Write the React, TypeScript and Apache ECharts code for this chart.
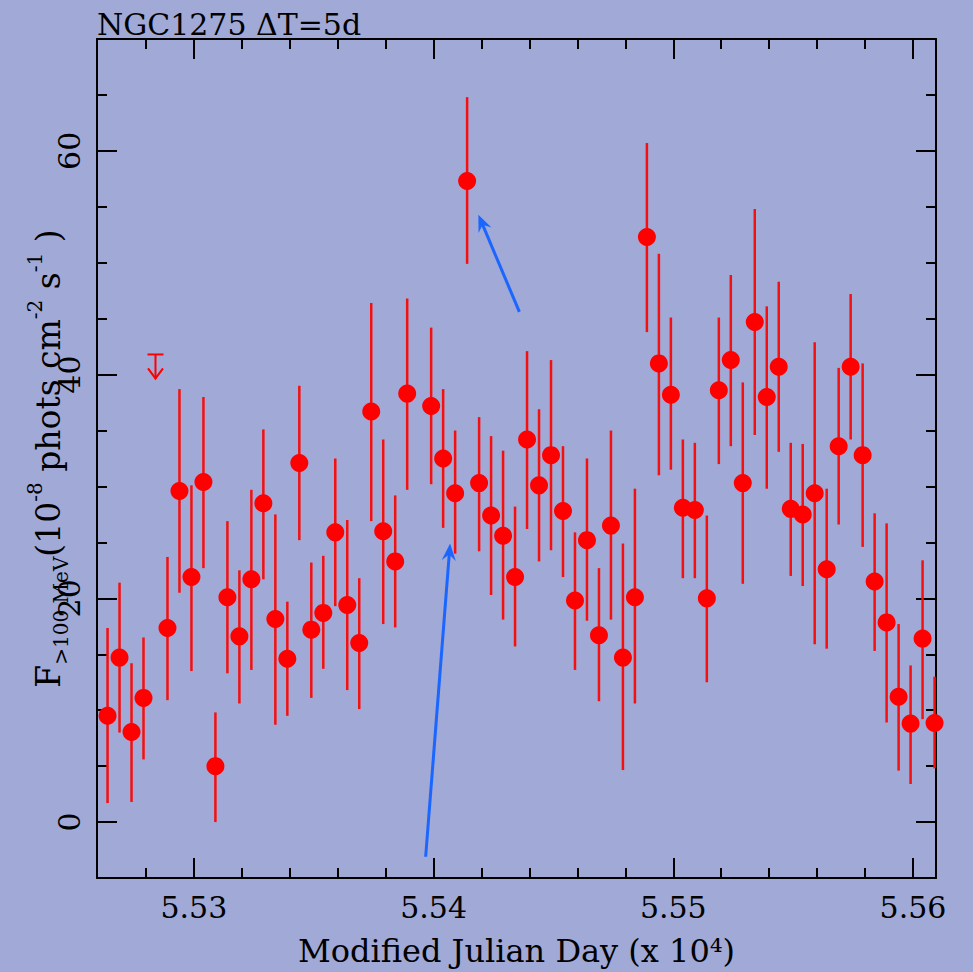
import { useEffect, useRef } from 'react';
import * as echarts from 'echarts';

const FONT = 'DejaVu Serif';

// Modified Julian Day of each 5-day bin centre (detections)
const mjd = [
  55264, 55269, 55274, 55279, 55289, 55294, 55299, 55304, 55309, 55314,
  55319, 55324, 55329, 55334, 55339, 55344, 55349, 55354, 55359, 55364,
  55369, 55374, 55379, 55384, 55389, 55399, 55404, 55409, 55414, 55419,
  55424, 55429, 55434, 55439, 55444, 55449, 55454, 55459, 55464, 55469,
  55474, 55479, 55484, 55489, 55494, 55499, 55504, 55509, 55514, 55519,
  55524, 55529, 55534, 55539, 55544, 55549, 55554, 55559, 55564, 55569,
  55574, 55579, 55584, 55589, 55594, 55599, 55604, 55609,
];
// Flux > 100 MeV (1e-8 phots cm^-2 s^-1)
const flux = [
  9.5, 14.7, 8.05, 11.1, 17.35, 29.6, 21.9, 30.4, 5.0, 20.1,
  16.6, 21.7, 28.5, 18.15, 14.6, 32.1, 17.2, 18.7, 25.9, 19.4,
  16.0, 36.7, 26.0, 23.3, 38.3, 37.2, 32.5, 29.4, 57.3, 30.3,
  27.4, 25.6, 21.9, 34.2, 30.1, 32.8, 27.8, 19.8, 25.2, 16.7,
  26.5, 14.7, 20.1, 52.3, 41.0, 38.2, 28.1, 27.9, 20.0, 38.6,
  41.3, 30.3, 44.7, 38.0, 40.7, 28.0, 27.5, 29.4, 22.6, 33.6,
  40.7, 32.8, 21.5, 17.85, 11.2, 8.8, 16.4, 8.85,
];
const fluxLo = [
  1.7, 8.0, 1.8, 5.6, 10.9, 20.5, 13.5, 22.7, 0.0, 13.3,
  10.6, 13.6, 21.7, 8.7, 9.5, 25.2, 11.1, 13.7, 19.3, 11.8,
  10.1, 26.9, 17.7, 17.4, 29.7, 30.2, 26.3, 24.0, 49.9, 24.2,
  20.3, 18.1, 15.7, 26.2, 23.3, 24.3, 21.9, 13.6, 18.0, 10.8,
  18.1, 4.65, 10.6, 43.8, 31.0, 31.5, 21.8, 21.8, 12.5, 32.0,
  33.6, 21.3, 34.6, 29.8, 33.1, 22.0, 21.1, 15.9, 15.5, 26.6,
  34.2, 24.6, 15.3, 8.9, 4.6, 3.4, 9.2, 4.8,
];
const fluxHi = [
  17.35, 21.4, 14.2, 16.5, 23.7, 38.7, 30.1, 38.0, 9.8, 26.9,
  22.5, 29.7, 35.1, 27.5, 19.7, 39.0, 23.2, 23.8, 32.5, 27.0,
  21.8, 46.4, 34.2, 29.2, 46.8, 44.2, 38.7, 35.0, 64.8, 36.2,
  34.5, 33.2, 28.2, 42.1, 36.9, 41.3, 33.6, 25.9, 32.5, 22.7,
  35.0, 24.9, 29.8, 60.7, 50.8, 45.1, 34.2, 33.9, 27.4, 45.1,
  48.9, 39.3, 54.8, 46.1, 48.3, 33.9, 33.8, 42.9, 29.8, 40.6,
  47.2, 41.0, 27.6, 26.7, 17.7, 14.0, 23.4, 13.0,
];

// Upper limit
const ulMjd = [55284];
const ulFlux = [41.8];

// Annotation arrows (tail -> head), data coordinates
const arrowTail = [
  [55435.8, 45.6],
  [55396.7, -3.1],
];
const arrowHead = [
  [55418.7, 54.3],
  [55406.9, 24.9],
];

const X_MIN = 55259.6;
const X_MAX = 55609.6;
const Y_MIN = -5;
const Y_MAX = 70;
const xMajorTicks = [55300, 55400, 55500, 55600];
const xMinorTicks = [
  55280, 55320, 55340, 55360, 55380, 55420, 55440, 55460, 55480, 55520,
  55540, 55560, 55580,
];
const yMajorTicks = [0, 20, 40, 60];
const yMinorTicks = [5, 10, 15, 25, 30, 35, 45, 50, 55, 65];

const BLACK = '#000000';
const tickStyle = { color: BLACK, width: 2 };

function makeX(position: string, ticks: number[], len: number, main: boolean, extra: any = {}) {
  return {
    type: 'value',
    position,
    min: X_MIN,
    max: X_MAX,
    splitLine: { show: false },
    axisLine: { show: main, onZero: false, lineStyle: { color: BLACK, width: 2 } },
    axisTick: { show: true, inside: true, length: len, customValues: ticks, lineStyle: tickStyle },
    axisLabel: { show: false },
    ...extra,
  };
}
function makeY(position: string, ticks: number[], len: number, main: boolean, extra: any = {}) {
  return {
    type: 'value',
    position,
    min: Y_MIN,
    max: Y_MAX,
    splitLine: { show: false },
    axisLine: { show: main, onZero: false, lineStyle: { color: BLACK, width: 2 } },
    axisTick: { show: true, inside: true, length: len, customValues: ticks, lineStyle: tickStyle },
    axisLabel: { show: false },
    ...extra,
  };
}

export default function App() {
  const ref = useRef<HTMLDivElement>(null);

  useEffect(() => {
    if (!ref.current) return;
    const chart = echarts.init(ref.current, null, { renderer: 'svg' });

    const option: any = {
      animation: false,
      backgroundColor: '#a1a9d6',
      grid: { left: 97, right: 37, top: 39, bottom: 94, containLabel: false, outerBoundsMode: 'none' },
      graphic: [
        {
          type: 'text',
          left: 97,
          top: 9,
          style: { text: 'NGC1275 ΔT=5d', fontSize: 30, fontFamily: FONT, fill: BLACK },
        },
      ],
      xAxis: [
        makeX('bottom', xMajorTicks, 20, true, {
          axisLabel: {
            show: true,
            customValues: xMajorTicks,
            formatter: (v: number) => (v / 1e4).toFixed(2),
            fontSize: 30,
            fontFamily: FONT,
            color: BLACK,
            margin: 14,
          },
          name: 'Modified Julian Day (x 10⁴)',
          nameLocation: 'middle',
          nameGap: 57,
          nameMoveOverlap: false,
          nameTextStyle: { fontSize: 32, fontFamily: FONT, color: BLACK },
        }),
        makeX('bottom', xMinorTicks, 10, false),
        makeX('top', xMajorTicks, 20, true),
        makeX('top', xMinorTicks, 10, false),
      ],
      yAxis: [
        makeY('left', yMajorTicks, 20, true, {
          axisLabel: {
            show: true,
            customValues: yMajorTicks,
            rotate: 90,
            fontSize: 30,
            fontFamily: FONT,
            color: BLACK,
            margin: 13,
          },
          name: '{m|F}{sub|>100 MeV}{m|(10}{sup|-8}{m| phots cm}{sup|-2}{m| s}{sup|-1}{m| )}',
          nameLocation: 'middle',
          nameRotate: 90,
          nameGap: 26,
          nameMoveOverlap: false,
          nameTextStyle: {
            fontFamily: FONT,
            color: BLACK,
            rich: {
              m: { fontSize: 33, fontFamily: FONT, color: BLACK, lineHeight: 46, verticalAlign: 'middle' },
              sub: { fontSize: 20, fontFamily: FONT, color: BLACK, lineHeight: 20, verticalAlign: 'bottom' },
              sup: { fontSize: 20, fontFamily: FONT, color: BLACK, lineHeight: 20, verticalAlign: 'top' },
            },
          },
        }),
        makeY('left', yMinorTicks, 10, false),
        makeY('right', yMajorTicks, 20, true),
        makeY('right', yMinorTicks, 10, false),
      ],
      series: [
        {
          type: 'custom',
          name: 'errors',
          xAxisIndex: 0,
          yAxisIndex: 0,
          data: mjd.map((m, i) => [m, fluxLo[i], fluxHi[i]]),
          renderItem: (_p: any, api: any) => {
            const x = api.value(0);
            const a = api.coord([x, api.value(1)]);
            const b = api.coord([x, api.value(2)]);
            return {
              type: 'line',
              shape: { x1: a[0], y1: a[1], x2: b[0], y2: b[1] },
              style: { stroke: '#f50f0f', lineWidth: 2.5, opacity: 1 },
            };
          },
          z: 2,
        },
        {
          type: 'scatter',
          name: 'flux',
          xAxisIndex: 0,
          yAxisIndex: 0,
          symbol: 'circle',
          symbolSize: 18,
          itemStyle: { color: '#ff0000', opacity: 1 },
          data: mjd.map((m, i) => [m, flux[i]]),
          z: 3,
        },
        {
          type: 'custom',
          name: 'upper limit',
          xAxisIndex: 0,
          yAxisIndex: 0,
          data: ulMjd.map((m, i) => [m, ulFlux[i]]),
          renderItem: (_p: any, api: any) => {
            const p = api.coord([api.value(0), api.value(1)]);
            const st = { stroke: '#ff0000', lineWidth: 2, fill: 'none' };
            return {
              type: 'group',
              children: [
                { type: 'line', shape: { x1: p[0] - 8, y1: p[1], x2: p[0] + 8, y2: p[1] }, style: st },
                { type: 'line', shape: { x1: p[0], y1: p[1], x2: p[0], y2: p[1] + 24 }, style: st },
                {
                  type: 'polyline',
                  shape: { points: [[p[0] - 7.5, p[1] + 14], [p[0], p[1] + 24], [p[0] + 7.5, p[1] + 14]] },
                  style: st,
                },
              ],
            };
          },
          z: 3,
        },
        {
          type: 'custom',
          name: 'arrows',
          xAxisIndex: 0,
          yAxisIndex: 0,
          data: arrowTail.map((t, i) => [t[0], t[1], arrowHead[i][0], arrowHead[i][1]]),
          renderItem: (_p: any, api: any) => {
            const a = api.coord([api.value(0), api.value(1)]);
            const b = api.coord([api.value(2), api.value(3)]);
            const dx = b[0] - a[0];
            const dy = b[1] - a[1];
            const L = Math.sqrt(dx * dx + dy * dy);
            const ux = dx / L;
            const uy = dy / L;
            const nx = -uy;
            const ny = ux;
            const color = '#1a66ff';
            return {
              type: 'group',
              children: [
                {
                  type: 'line',
                  shape: { x1: a[0], y1: a[1], x2: b[0] - ux * 9, y2: b[1] - uy * 9 },
                  style: { stroke: color, lineWidth: 3 },
                },
                {
                  type: 'polygon',
                  shape: {
                    points: [
                      [b[0], b[1]],
                      [b[0] - ux * 17 + nx * 7, b[1] - uy * 17 + ny * 7],
                      [b[0] - ux * 11, b[1] - uy * 11],
                      [b[0] - ux * 17 - nx * 7, b[1] - uy * 17 - ny * 7],
                    ],
                  },
                  style: { fill: color },
                },
              ],
            };
          },
          z: 4,
        },
      ],
    };

    chart.setOption(option);
    return () => chart.dispose();
  }, []);

  return (
    <div
      ref={ref}
      style={{ position: 'fixed', left: 0, top: 0, width: 973, height: 972 }}
    />
  );
}
